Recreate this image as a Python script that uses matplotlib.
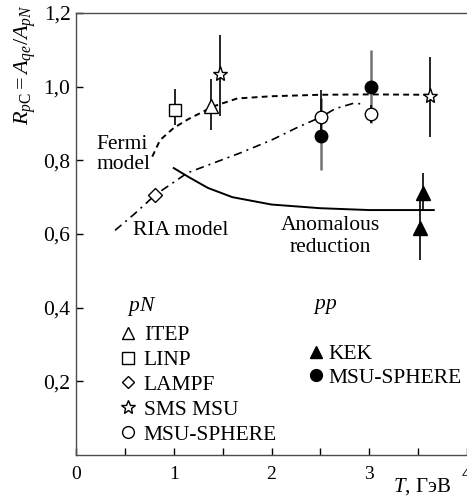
import numpy as np
import matplotlib
matplotlib.use('Agg')
import matplotlib.pyplot as plt
from matplotlib.lines import Line2D

plt.rcParams['font.family'] = ['Liberation Serif', 'DejaVu Serif']
plt.rcParams['mathtext.fontset'] = 'custom'
plt.rcParams['mathtext.rm'] = 'Liberation Serif'
plt.rcParams['mathtext.it'] = 'Liberation Serif:italic'

# pN data: T (GeV), R, lower, upper
itep_x, itep_y, itep_lo, itep_hi = [1.38], [0.947], [0.882], [1.021]
linp_x, linp_y, linp_lo, linp_hi = [1.01], [0.937], [0.896], [0.994]
lampf_x, lampf_y = [0.81], [0.706]
sms_x = [1.47, 3.62]
sms_y = [1.034, 0.975]
sms_lo = [0.92, 0.863]
sms_hi = [1.14, 1.08]
msu_pn_x = [2.51, 3.02]
msu_pn_y = [0.918, 0.926]
msu_pn_lo = [0.85, 0.901]
msu_pn_hi = [0.99, 0.95]

# pp data
kek_x = [3.55, 3.52]
kek_y = [0.711, 0.616]
kek_lo = [0.665, 0.53]
kek_hi = [0.766, 0.692]
msu_pp_x = [2.51, 3.02]
msu_pp_y = [0.866, 1.0]
msu_pp_lo = [0.774, 0.90]
msu_pp_hi = [0.97, 1.10]

# model curves
fermi_x = [0.78, 0.86, 1.0, 1.15, 1.27, 1.4, 1.65, 2.0, 2.5, 3.0, 3.6]
fermi_y = [0.81, 0.855, 0.888, 0.912, 0.928, 0.946, 0.968, 0.974, 0.978, 0.979, 0.978]
ria_x = [0.4, 0.6, 0.81, 1.14, 1.68, 2.0, 2.27, 2.51, 2.65, 2.84, 2.93]
ria_y = [0.61, 0.655, 0.706, 0.766, 0.82, 0.855, 0.89, 0.918, 0.94, 0.955, 0.953]
anom_x = [1.0, 1.15, 1.35, 1.6, 2.0, 2.5, 3.0, 3.66]
anom_y = [0.779, 0.755, 0.725, 0.7, 0.68, 0.67, 0.665, 0.665]

fig = plt.figure(figsize=(4.67, 4.98), dpi=100)
ax = fig.add_axes([76/467, 1-455/498, 1-76/467, 442/498])

ax.plot(fermi_x, fermi_y, color='k', lw=1.4, dashes=(3, 2.2))
ax.plot(ria_x, ria_y, color='k', lw=1.2, dashes=(5, 3, 1.2, 3))
ax.plot(anom_x, anom_y, color='k', lw=1.4)

def err(x, y, lo, hi, color='k', lw=1.2):
    y = np.array(y)
    yerr = [y - np.array(lo), np.array(hi) - y]
    ax.errorbar(x, y, yerr=yerr, fmt='none', ecolor=color, elinewidth=lw, capsize=0, zorder=2)

err(itep_x, itep_y, itep_lo, itep_hi)
err(linp_x, linp_y, linp_lo, linp_hi)
err(sms_x, sms_y, sms_lo, sms_hi)
err(msu_pp_x, msu_pp_y, msu_pp_lo, msu_pp_hi, color='0.45', lw=1.8)
err(msu_pn_x, msu_pn_y, msu_pn_lo, msu_pn_hi)
err(kek_x, kek_y, kek_lo, kek_hi)

mk = dict(linestyle='none', markeredgecolor='k', markeredgewidth=1.0, zorder=4)
ax.plot(itep_x, itep_y, marker='^', ms=10, mfc='white', **mk)
ax.plot(linp_x, linp_y, marker='s', ms=9, mfc='white', **mk)
ax.plot(lampf_x, lampf_y, marker='D', ms=7, mfc='white', **mk)
ax.plot(sms_x, sms_y, marker='*', ms=11, mfc='white', **mk)
ax.plot(msu_pn_x, msu_pn_y, marker='o', ms=9, mfc='white', **mk)
ax.plot(kek_x, kek_y, marker='^', ms=10, mfc='k', **mk)
ax.plot(msu_pp_x, msu_pp_y, marker='o', ms=9, mfc='k', **mk)

fs = 15.5
ax.text(0.21, 0.844, 'Fermi', fontsize=fs, va='center')
ax.text(0.21, 0.79, 'model', fontsize=fs, va='center')
ax.text(0.58, 0.61, 'RIA model', fontsize=fs, va='center')
ax.text(2.6, 0.624, 'Anomalous', fontsize=fs, va='center', ha='center')
ax.text(2.6, 0.562, 'reduction', fontsize=fs, va='center', ha='center')

# legends
def h(marker, ms, fc):
    return Line2D([], [], linestyle='none', marker=marker, ms=ms, mfc=fc, mec='k', mew=1.0)

pn_handles = [h('^', 9, 'white'), h('s', 8, 'white'), h('D', 6.5, 'white'),
              h('*', 10, 'white'), h('o', 8.5, 'white')]
pn_labels = ['ITEP', 'LINP', 'LAMPF', 'SMS MSU', 'MSU-SPHERE']
ax.text(0.52, 0.402, '$pN$', fontsize=fs, va='center')
leg1 = ax.legend(pn_handles, pn_labels, loc='upper left',
                 bbox_to_anchor=(0.44, 0.352), bbox_transform=ax.transData,
                 frameon=False, fontsize=fs,
                 handlelength=0.8, handletextpad=0.35, labelspacing=0.22,
                 borderpad=0, borderaxespad=0)
ax.add_artist(leg1)
pp_handles = [h('^', 9, 'k'), h('o', 8.5, 'k')]
ax.text(2.42, 0.402, '$pp$', fontsize=fs, va='center')
ax.legend(pp_handles, ['KEK', 'MSU-SPHERE'], loc='upper left',
          bbox_to_anchor=(2.37, 0.301), bbox_transform=ax.transData,
          frameon=False, fontsize=fs,
          handlelength=0.8, handletextpad=0.15, labelspacing=0.17,
          borderpad=0, borderaxespad=0)

ax.set_xlim(0, 4)
ax.set_ylim(0, 1.2)
ax.set_xticks([0, 1, 2, 3, 4])
ax.set_xticklabels(['0', '1', '2', '3', '4'])
ax.set_xticks([0.5, 1.5, 2.5, 3.5], minor=True)
ax.set_yticks([0.2, 0.4, 0.6, 0.8, 1.0, 1.2])
ax.set_yticklabels(['0,2', '0,4', '0,6', '0,8', '1,0', '1,2'])
ax.tick_params(axis='x', which='both', direction='in', length=5, width=1, labelsize=14, pad=8)
ax.tick_params(axis='y', direction='in', length=5, width=1, labelsize=15.5, pad=4)
ax.spines['right'].set_visible(False)
for s in ['left', 'bottom', 'top']:
    ax.spines[s].set_linewidth(1.0)
    ax.spines[s].set_color('0.3')

fig.text(25/467, 1-65/498, r'$R_{p\mathrm{C}} = A_{qe}/A_{pN}$', rotation=90,
         fontsize=16, ha='center', va='center')
fig.text(451/467, 1-487/498, '$T$, ГэВ', fontsize=15, ha='right', va='center')

fig.savefig('out.png', dpi=100)
